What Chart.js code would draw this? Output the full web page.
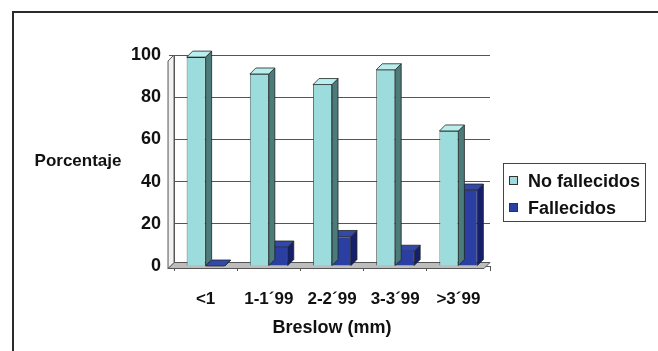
<!DOCTYPE html>
<html>
<head>
<meta charset="utf-8">
<script src="https://cdn.jsdelivr.net/npm/chart.js@4/dist/chart.umd.min.js"></script>
<style>
  html, body { margin: 0; padding: 0; background: #fff; }
  #wrap { position: relative; width: 658px; height: 351px; overflow: hidden; }
  #frame { position: absolute; left: 12px; top: 11px; right: -10px; bottom: -10px;
           border-top: 2px solid #2b2b2b; border-left: 2px solid #2b2b2b; }
  canvas { position: absolute; left: 0; top: 0; }
</style>
</head>
<body>
<div id="wrap"><div id="frame"></div><canvas id="chart" width="658" height="351"></canvas></div>
<script>
// Breslow thickness categories and percentages
const categories = ['<1', '1-1\u00b499', '2-2\u00b499', '3-3\u00b499', '>3\u00b499'];
const noFallecidos = [99, 91, 86, 93, 64];
const fallecidos = [0, 9, 14, 7, 36];
const yTicks = [0, 20, 40, 60, 80, 100];

const DEPTH = 6;
const FONT = "'Liberation Sans', Arial, sans-serif";
const fronts = ['#9ddcdc', '#2b3ea2'];
const sides = ['#4d7b79', '#161f6a'];
const tops = ['#b8eeee', '#3448aa'];

function drawFaces(chart, i) {
    const ctx = chart.ctx;
    ctx.save();
    ctx.strokeStyle = '#1d2626';
    ctx.lineWidth = 0.8;
    chart.getDatasetMeta(i).data.forEach(bar => {
        const l = bar.x - bar.width / 2;
        const r = bar.x + bar.width / 2;
        const t = bar.y;
        const b = bar.base;
        // right face
        ctx.fillStyle = sides[i];
        ctx.beginPath();
        ctx.moveTo(r, t);
        ctx.lineTo(r + DEPTH, t - DEPTH);
        ctx.lineTo(r + DEPTH, b - DEPTH);
        ctx.lineTo(r, b);
        ctx.closePath();
        ctx.fill();
        ctx.stroke();
        // top face
        ctx.fillStyle = tops[i];
        ctx.beginPath();
        ctx.moveTo(l, t);
        ctx.lineTo(l + DEPTH, t - DEPTH);
        ctx.lineTo(r + DEPTH, t - DEPTH);
        ctx.lineTo(r, t);
        ctx.closePath();
        ctx.fill();
        ctx.stroke();
    });
    ctx.restore();
}

const depthBars = {
    id: 'depthBars',
    beforeDatasetsDraw(chart) {
        const ctx = chart.ctx;
        const a = chart.chartArea;
        ctx.save();
        ctx.strokeStyle = '#555';
        ctx.lineWidth = 1;
        // floor strip
        ctx.fillStyle = '#bdbdbd';
        ctx.beginPath();
        ctx.moveTo(a.left - DEPTH, a.bottom + 2.5);
        ctx.lineTo(a.right - DEPTH, a.bottom + 2.5);
        ctx.lineTo(a.right, a.bottom - DEPTH + 2.5);
        ctx.lineTo(a.left, a.bottom - DEPTH + 2.5);
        ctx.closePath();
        ctx.fill();
        ctx.stroke();
        // left wall
        ctx.fillStyle = '#f2f2f2';
        ctx.beginPath();
        ctx.moveTo(a.left - DEPTH, a.top + DEPTH);
        ctx.lineTo(a.left, a.top);
        ctx.lineTo(a.left, a.bottom - DEPTH + 2.5);
        ctx.lineTo(a.left - DEPTH, a.bottom + 2.5);
        ctx.closePath();
        ctx.fill();
        ctx.stroke();
        ctx.restore();
    },
    afterDatasetDraw(chart, args) {
        drawFaces(chart, args.index);
    },
    afterDraw(chart) {
        const ctx = chart.ctx;
        const a = chart.chartArea;
        ctx.save();
        ctx.fillStyle = '#111';
        ctx.font = 'bold 17px ' + FONT;
        ctx.textBaseline = 'middle';
        // horizontal y axis title
        ctx.textAlign = 'center';
        ctx.fillText('Porcentaje', 78, 161);
        // legend
        const lx = a.right + 13;
        const ly = 163;
        ctx.strokeStyle = '#444';
        ctx.lineWidth = 1;
        ctx.strokeRect(lx + 0.5, ly + 0.5, 142, 58);
        ctx.font = 'bold 18px ' + FONT;
        ctx.textAlign = 'left';
        chart.data.datasets.forEach((ds, i) => {
            const cy = ly + 18 + i * 27;
            ctx.fillStyle = fronts[i];
            ctx.fillRect(lx + 6, cy - 5, 9, 9);
            ctx.strokeStyle = '#333';
            ctx.strokeRect(lx + 6.5, cy - 4.5, 8, 8);
            ctx.fillStyle = '#111';
            ctx.fillText(ds.label, lx + 25, cy + 1);
        });
        ctx.restore();
    }
};

new Chart(document.getElementById('chart'), {
    type: 'bar',
    data: {
        labels: categories,
        datasets: [{
            label: 'No fallecidos',
            data: noFallecidos,
            backgroundColor: fronts[0],
            borderColor: '#2a3b3b',
            borderWidth: 0.8
        }, {
            label: 'Fallecidos',
            data: fallecidos,
            backgroundColor: fronts[1],
            borderColor: '#111a50',
            borderWidth: 0.8
        }]
    },
    options: {
        responsive: false,
        animation: false,
        layout: { padding: { left: 123, right: 168, top: 55, bottom: 12 } },
        datasets: { bar: { categoryPercentage: 0.6, barPercentage: 1 } },
        plugins: {
            legend: { display: false },
            tooltip: { enabled: false }
        },
        scales: {
            x: {
                grid: { display: true, drawOnChartArea: false, tickLength: 5, color: '#555', offset: true },
                border: { color: '#555' },
                ticks: { color: '#111', font: { family: FONT, size: 17, weight: 'bold' }, padding: 18 },
                title: {
                    display: true,
                    text: 'Breslow (mm)',
                    color: '#111',
                    font: { family: FONT, size: 18, weight: 'bold' },
                    padding: { top: -10, bottom: 0 }
                }
            },
            y: {
                min: 0,
                max: 100,
                afterBuildTicks(scale) { scale.ticks = yTicks.map(v => ({ value: v })); },
                grid: { color: '#555', tickLength: 5 },
                border: { color: '#555' },
                ticks: { color: '#111', font: { family: FONT, size: 18, weight: 'bold' }, padding: 8 }
            }
        }
    },
    plugins: [depthBars]
});
</script>
</body>
</html>
